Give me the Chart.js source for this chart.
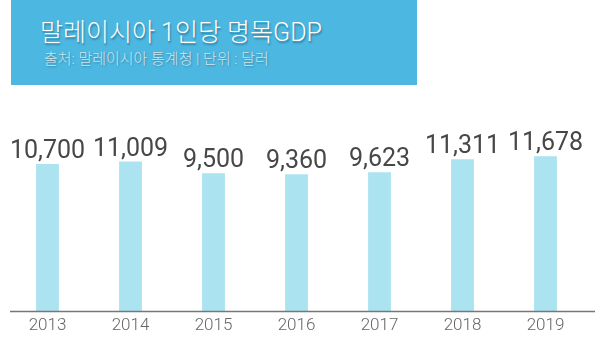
<!DOCTYPE html>
<html lang="ko">
<head>
<meta charset="UTF-8">
<title>말레이시아 1인당 명목GDP</title>
<script src="https://cdn.jsdelivr.net/npm/chart.js"></script>
<style>
    body { margin: 0; background: #fff; }
    .wrap { position: relative; width: 600px; height: 345px; }
    .chart-box { position: absolute; left: 0; top: 0; width: 600px; height: 345px; }
    .title-box {
        position: absolute; left: 11px; top: 0; width: 406px; height: 85px;
        background: #4cb8e2; z-index: 2;
    }
    .title-box h1 {
        position: absolute; left: 29px; top: 12px; margin: 0;
        font: 300 25px Roboto, "Noto Sans CJK KR", sans-serif;
        color: #fff; text-shadow: 1px 2px 2px rgba(0,0,0,0.35); white-space: nowrap;
    }
    .title-box p {
        position: absolute; left: 33px; top: 47px; margin: 0;
        font: 300 15px Roboto, "Noto Sans CJK KR", sans-serif;
        color: #cfe4ec; text-shadow: 1px 1px 2px rgba(0,0,0,0.3); white-space: nowrap;
    }
</style>
</head>
<body>
<div class="wrap">
    <div class="title-box">
        <h1>말레이시아 1인당 명목GDP</h1>
        <p>출처: 말레이시아 통계청 | 단위 : 달러</p>
    </div>
    <div class="chart-box"><canvas id="myChart"></canvas></div>
</div>
<script>
    const years = ['2013', '2014', '2015', '2016', '2017', '2018', '2019'];
    const gdpPerCapita = [10700, 11009, 9500, 9360, 9623, 11311, 11678];
    const yMin = -8240;
    const yMax = 18934;

    // value labels above each bar + the base line
    const valueLabels = {
        id: 'valueLabels',
        afterDatasetsDraw(chart) {
            const ctx = chart.ctx;
            const meta = chart.getDatasetMeta(0);
            ctx.save();
            ctx.font = '400 25px Roboto, sans-serif';
            ctx.fillStyle = '#474747';
            ctx.textAlign = 'center';
            ctx.textBaseline = 'alphabetic';
            meta.data.forEach(function(bar, i) {
                ctx.fillText(gdpPerCapita[i].toLocaleString('en-US'), bar.x, bar.y - 6);
            });
            const y = chart.chartArea.bottom + 0.5;
            ctx.strokeStyle = '#777';
            ctx.lineWidth = 1.5;
            ctx.beginPath();
            ctx.moveTo(10, y);
            ctx.lineTo(595, y);
            ctx.stroke();
            ctx.restore();
        }
    };

    const ctx = document.getElementById('myChart').getContext('2d');
    new Chart(ctx, {
        type: 'bar',
        data: {
            labels: years,
            datasets: [{
                data: gdpPerCapita,
                base: yMin,
                backgroundColor: '#abe3f0',
                categoryPercentage: 1,
                barPercentage: 0.275
            }]
        },
        options: {
            responsive: true,
            maintainAspectRatio: false,
            animation: false,
            layout: { padding: { left: 6, right: 13, top: 100, bottom: 3.6 } },
            plugins: { legend: { display: false }, tooltip: { enabled: false } },
            scales: {
                x: {
                    grid: { display: false, drawTicks: false },
                    border: { display: false },
                    ticks: {
                        padding: 5,
                        color: '#666',
                        font: { family: 'Roboto', size: 17, weight: '300' }
                    }
                },
                y: {
                    display: false,
                    min: yMin,
                    max: yMax
                }
            }
        },
        plugins: [valueLabels]
    });
</script>
</body>
</html>
